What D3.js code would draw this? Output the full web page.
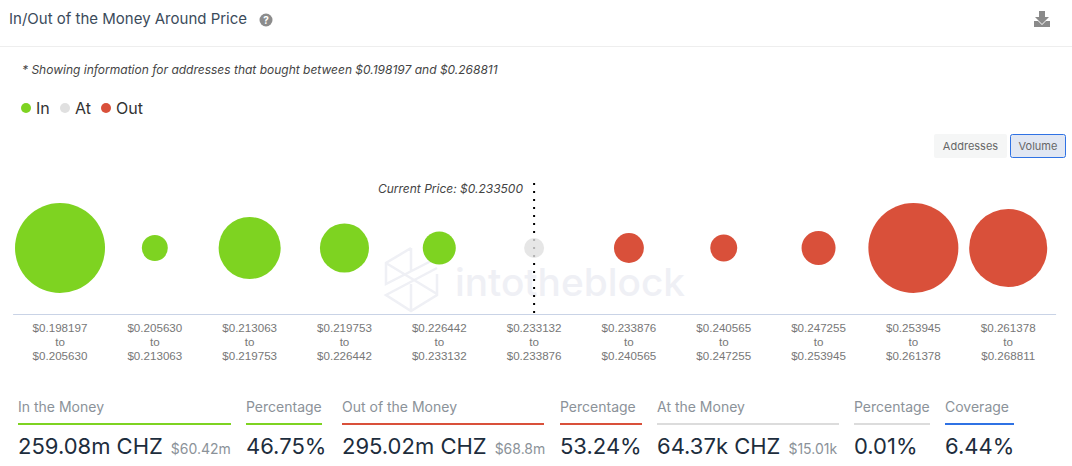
<!DOCTYPE html>
<html>
<head>
<meta charset="utf-8">
<script src="https://cdn.jsdelivr.net/npm/d3@7"></script>
<style>
  html, body { margin: 0; padding: 0; background: #fff; overflow: hidden; }
  svg { display: block; font-family: Inter, "Noto Sans", sans-serif; }
</style>
</head>
<body>
<div id="chart"></div>
<script>
// price bands, low and high edge
const bandLow = ["$0.198197","$0.205630","$0.213063","$0.219753","$0.226442","$0.233132","$0.233876","$0.240565","$0.247255","$0.253945","$0.261378"];
const bandHigh = ["$0.205630","$0.213063","$0.219753","$0.226442","$0.233132","$0.233876","$0.240565","$0.247255","$0.253945","$0.261378","$0.268811"];
// volume in millions of CHZ
const volumes = [138, 11.5, 65.6, 41, 18.6, 0.064, 15.3, 12.4, 19.7, 138, 103.8];
const status = ["In","In","In","In","In","At","Out","Out","Out","Out","Out"];

const legendNames = ["In","At","Out"];
const legendColors = ["#7ed321","#e0e0e0","#d9503a"];

const statLabels = ["In the Money","Percentage","Out of the Money","Percentage","At the Money","Percentage","Coverage"];
const statValues = ["259.08m CHZ","46.75%","295.02m CHZ","53.24%","64.37k CHZ","0.01%","6.44%"];
const statSubs = ["$60.42m","","$68.8m","","$15.01k","",""];
const statColors = ["#7ed321","#7ed321","#d9503a","#d9503a","#dcdcdc","#dcdcdc","#2f72e4"];
const statLeft = [18,246,342,560,657,854,945];
const statRight = [231,322,544,642,839,930,1014];

const width = 1072, height = 466;
const svg = d3.select("#chart").append("svg").attr("width", width).attr("height", height);

// header
svg.append("text").attr("x", 9).attr("y", 24).attr("font-size", 15).attr("fill", "#3b4b5b")
  .text("In/Out of the Money Around Price");
svg.append("circle").attr("cx", 266).attr("cy", 20).attr("r", 6.5).attr("fill", "#8c8c8c");
svg.append("text").attr("x", 266).attr("y", 24).attr("text-anchor", "middle").attr("font-size", 10)
  .attr("font-weight", 700).attr("fill", "#fff").text("?");
svg.append("path").attr("fill", "#8a8a8a")
  .attr("d", "M1039 11h6v6h4l-7 7-7-7h4z M1034 21h4l4 4 4-4h4v6h-16z");
svg.append("line").attr("x1", 0).attr("x2", width).attr("y1", 46.5).attr("y2", 46.5).attr("stroke", "#eeeeee");

svg.append("text").attr("x", 22).attr("y", 74).attr("font-size", 12).attr("font-style", "italic").attr("fill", "#444")
  .text("* Showing information for addresses that bought between $0.198197 and $0.268811");

// legend
const legendX = [26, 65, 106];
const legend = svg.selectAll(".legend").data(legendNames).enter().append("g")
  .attr("class", "legend").attr("transform", (d, i) => `translate(${legendX[i]},108)`);
legend.append("circle").attr("r", 5).attr("fill", (d, i) => legendColors[i]);
legend.append("text").attr("x", 10).attr("y", 6).attr("font-size", 16).attr("fill", "#333").text(d => d);

// buttons
svg.append("rect").attr("x", 934).attr("y", 134).attr("width", 73).attr("height", 24).attr("rx", 2).attr("fill", "#f5f6f6");
svg.append("text").attr("x", 970.5).attr("y", 150).attr("text-anchor", "middle").attr("font-size", 11).attr("fill", "#666").text("Addresses");
svg.append("rect").attr("x", 1010.5).attr("y", 134.5).attr("width", 55).attr("height", 23).attr("rx", 2)
  .attr("fill", "#e1e7f3").attr("stroke", "#2f72e4");
svg.append("text").attr("x", 1038).attr("y", 150).attr("text-anchor", "middle").attr("font-size", 11).attr("fill", "#666").text("Volume");

// scales
const x = d3.scaleBand().domain(d3.range(bandLow.length)).range([12.6, 1055.6]);
const r = d3.scaleSqrt().domain([0, d3.max(volumes)]).range([0, 45]);
const minRadius = 10;
const color = d3.scaleOrdinal().domain(legendNames).range(legendColors);
const cy = 248, axisY = 314;

// watermark
const wm = svg.append("g").attr("fill", "none").attr("stroke", "#eff0f5").attr("stroke-width", 2.5);
wm.append("path").attr("d", "M411 248L386 263V284L437 258 M386 263L437 294 M411 248V272 M437 274V295L411 311L386 295L437 268 M411 284V311");
svg.append("text").attr("x", 455).attr("y", 296).attr("font-size", 38.8).attr("font-weight", 500)
  .attr("fill", "#eff0f5").text("intotheblock");

// current price marker
svg.append("line").attr("x1", x(5) + x.bandwidth() / 2).attr("x2", x(5) + x.bandwidth() / 2)
  .attr("y1", 183).attr("y2", axisY).attr("stroke", "#000").attr("stroke-width", 2).attr("stroke-dasharray", "2,6");
svg.append("text").attr("x", 523).attr("y", 193).attr("text-anchor", "end").attr("font-size", 12)
  .attr("font-style", "italic").attr("fill", "#444").text("Current Price: $0.233500");

// bubbles
svg.selectAll(".bubble").data(volumes).enter().append("circle")
  .attr("class", "bubble")
  .attr("cx", (d, i) => x(i) + x.bandwidth() / 2)
  .attr("cy", cy)
  .attr("r", d => Math.max(minRadius, r(d)))
  .attr("fill", (d, i) => color(status[i]))
  .attr("fill-opacity", (d, i) => status[i] === "At" ? 0.8 : 1);

// axis
const axis = svg.append("g").attr("transform", `translate(0,${axisY})`)
  .call(d3.axisBottom(x).tickSize(0).tickFormat(""));
axis.select(".domain").attr("stroke", "#c9d3e6");
axis.selectAll(".tick text").remove();
const tick = axis.selectAll(".tick").append("text")
  .attr("text-anchor", "middle").attr("font-size", 11.6).attr("fill", "#777");
tick.append("tspan").attr("x", 0).attr("y", 18).text(d => bandLow[d]);
tick.append("tspan").attr("x", 0).attr("y", 32).text("to");
tick.append("tspan").attr("x", 0).attr("y", 46).text(d => bandHigh[d]);

// stats row
const stat = svg.selectAll(".stat").data(statLabels).enter().append("g").attr("class", "stat");
stat.append("text").attr("x", (d, i) => statLeft[i]).attr("y", 412).attr("font-size", 14).attr("fill", "#8b9299").text(d => d);
stat.append("rect").attr("x", (d, i) => statLeft[i]).attr("y", 423).attr("height", 2)
  .attr("width", (d, i) => statRight[i] - statLeft[i]).attr("fill", (d, i) => statColors[i]);
const val = stat.append("text").attr("x", (d, i) => statLeft[i]).attr("y", 454).attr("font-size", 22).attr("fill", "#1d2d3d")
  .text((d, i) => statValues[i]);
val.append("tspan").attr("dx", 8).attr("font-size", 14).attr("fill", "#8b9299").text((d, i) => statSubs[i]);
</script>
</body>
</html>
